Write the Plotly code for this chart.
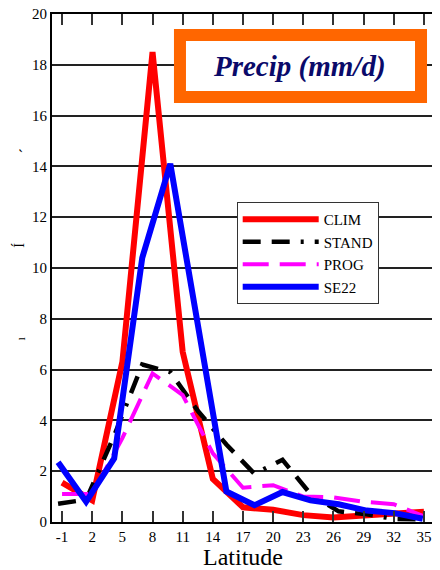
import plotly.graph_objects as go

# Latitude grids
lat_tick = [-1, 2, 5, 8, 11, 14, 17, 20, 23, 26, 29, 32, 35]
lat_gauss = [-1.395, 1.395, 4.186, 6.977, 9.767, 12.558, 15.348, 18.139,
             20.929, 23.72, 26.51, 29.30, 32.09, 34.88]

# Series values (mm/d)
clim = [1.55, 0.85, 6.3, 18.5, 6.7, 1.7, 0.58, 0.48, 0.27, 0.18, 0.26, 0.33, 0.4]
prog = [1.1, 1.1, 3.3, 5.85, 5.0, 2.7, 1.35, 1.45, 1.0, 0.97, 0.8, 0.7, 0.22]
stand = [0.72, 0.88, 3.4, 6.2, 5.9, 4.35, 3.05, 1.9, 2.45, 1.1, 0.42, 0.3, 0.12, 0.1]
se22 = [2.35, 0.8, 2.5, 10.4, 14.1, 7.5, 1.2, 0.66, 1.18, 0.85, 0.7, 0.45, 0.35, 0.13]

x_ticks = lat_tick
x_ticktext = ["-1", "2", "5", "8", "11", "14", "17", "20", "23", "26", "29", "32", "35"]
y_ticks = [0, 2, 4, 6, 8, 10, 12, 14, 16, 18, 20]

SERIF = "Liberation Serif, Times New Roman, serif"

fig = go.Figure()
fig.add_trace(go.Scatter(x=lat_tick, y=clim, mode="lines", name="CLIM",
                         line=dict(color="#ff0000", width=6)))
fig.add_trace(go.Scatter(x=lat_gauss, y=stand, mode="lines", name="STAND",
                         line=dict(color="#000000", width=4.5,
                                   dash="18px,11px,18px,11px,3px,11px")))
fig.add_trace(go.Scatter(x=lat_tick, y=prog, mode="lines", name="PROG",
                         line=dict(color="#ff00ff", width=4, dash="26px,11px")))
fig.add_trace(go.Scatter(x=lat_gauss, y=se22, mode="lines", name="SE22",
                         line=dict(color="#0000ff", width=6)))

# page body has an 8px default margin, so the figure is 8px smaller
fig.update_layout(
    width=432, height=562,
    margin=dict(l=44, r=6, t=6, b=48, autoexpand=False),
    paper_bgcolor="white", plot_bgcolor="white",
    font=dict(family=SERIF, color="black", size=15),
    showlegend=True,
    legend=dict(x=0.4835, y=0.63, xanchor="left", yanchor="top",
                bgcolor="white", bordercolor="#333333", borderwidth=1,
                font=dict(family=SERIF, size=15, color="black"),
                tracegroupgap=0, itemwidth=76),
    xaxis=dict(range=[-2, 36], tickvals=x_ticks, ticktext=x_ticktext,
               showgrid=False, zeroline=False, automargin=False,
               showline=True, linecolor="black", linewidth=2, mirror="ticks",
               ticks="inside", ticklen=11, tickwidth=1.5, tickcolor="#333333",
               tickfont=dict(family=SERIF, size=15), ticklabeloverflow="allow",
               title=dict(text="Latitude", font=dict(family=SERIF, size=24),
                          standoff=4)),
    yaxis=dict(range=[0, 20], tickvals=y_ticks, automargin=False,
               showgrid=True, gridcolor="#222222", gridwidth=2, zeroline=False,
               showline=True, linecolor="black", linewidth=2, mirror=True,
               ticks="", tickfont=dict(family=SERIF, size=15),
               ticklabeloverflow="allow"),
    shapes=[dict(type="rect", xref="paper", yref="paper",
                 x0=0.335, x1=0.966, y0=0.8365, y1=0.9586,
                 line=dict(color="#ff6600", width=12), fillcolor="white",
                 layer="above")],
    annotations=[
        dict(text="<b><i>Precip (mm/d)</i></b>", xref="paper", yref="paper",
             x=0.649, y=0.8976, xanchor="center", yanchor="middle",
             showarrow=False, font=dict(family=SERIF, size=29, color="#0a0a6a")),
        dict(text="´", xref="paper", yref="paper", x=-0.07, y=0.73,
             xanchor="center", yanchor="middle", showarrow=False,
             textangle=-90, font=dict(family=SERIF, size=16)),
        dict(text="Í", xref="paper", yref="paper", x=-0.085, y=0.545,
             xanchor="center", yanchor="middle", showarrow=False,
             textangle=-90, font=dict(family=SERIF, size=14)),
        dict(text="ı", xref="paper", yref="paper", x=-0.08, y=0.362,
             xanchor="center", yanchor="middle", showarrow=False,
             textangle=-90, font=dict(family=SERIF, size=12)),
    ],
)

fig.write_html("out.html")
